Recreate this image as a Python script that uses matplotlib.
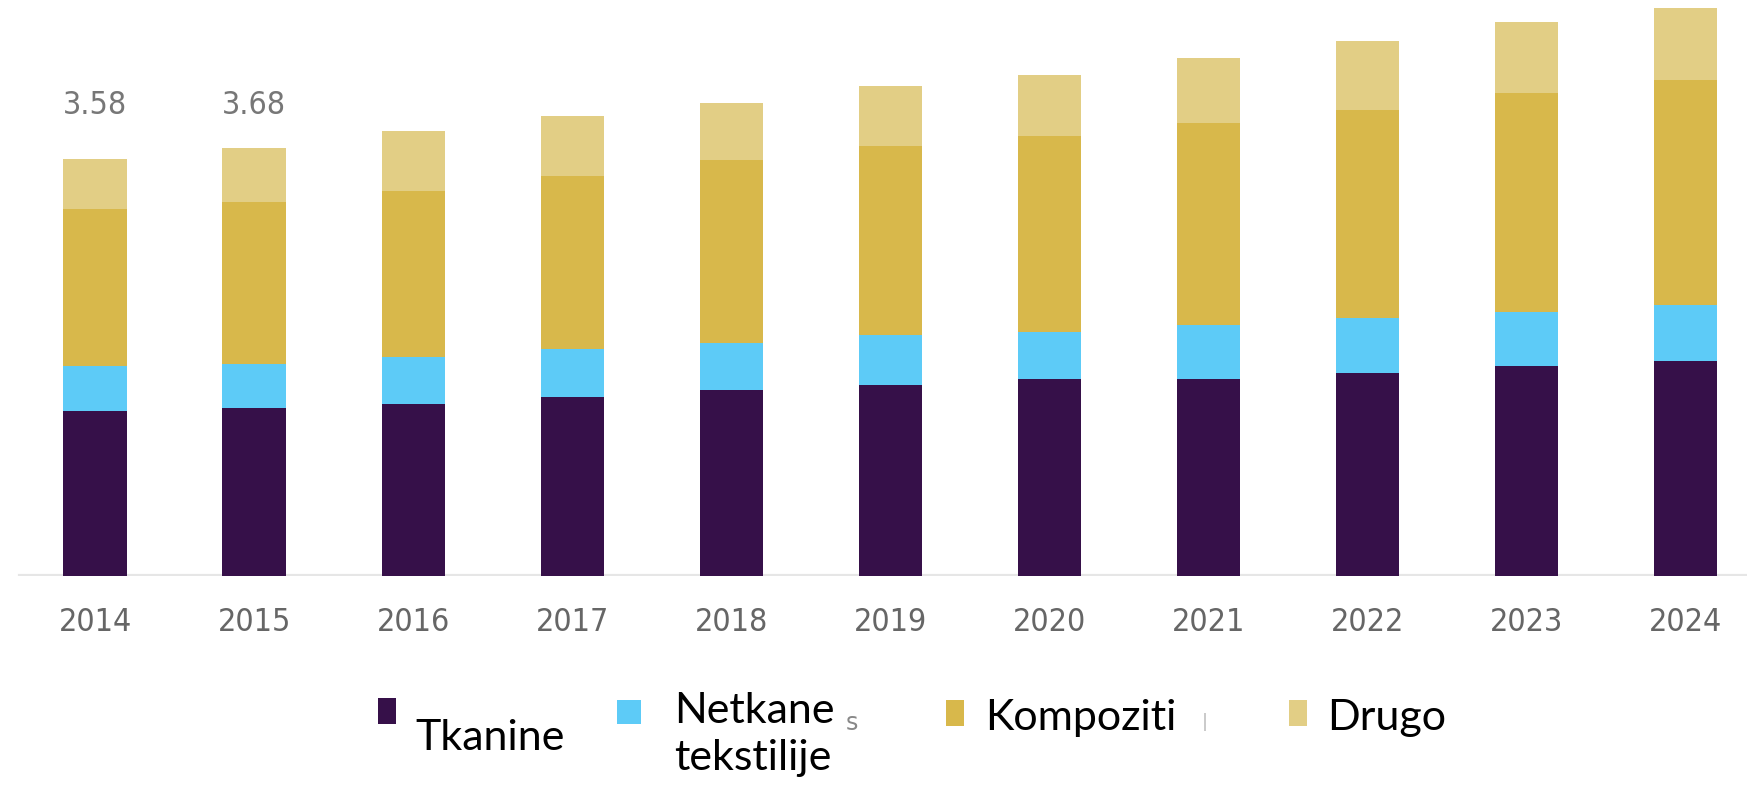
import matplotlib
matplotlib.use("Agg")
import matplotlib.pyplot as plt
from matplotlib.patches import Rectangle
import matplotlib.transforms as mtrans
import numpy as np

years = ["2014", "2015", "2016", "2017", "2018", "2019", "2020", "2021", "2022", "2023", "2024"]
tkanine = [1.42, 1.44, 1.48, 1.54, 1.60, 1.64, 1.69, 1.69, 1.74, 1.80, 1.85]
netkane = [0.38, 0.38, 0.40, 0.41, 0.40, 0.43, 0.41, 0.47, 0.48, 0.47, 0.48]
kompoziti = [1.35, 1.39, 1.43, 1.49, 1.57, 1.62, 1.68, 1.73, 1.78, 1.88, 1.93]
drugo = [0.43, 0.47, 0.51, 0.51, 0.49, 0.52, 0.52, 0.56, 0.60, 0.61, 0.62]
labels = {"2014": "3.58", "2015": "3.68"}
series_names = ["Tkanine", "Netkane tekstilije", "Kompoziti", "Drugo"]
colors = ["#361049", "#5DCBF7", "#D8B84B", "#E2CE85"]

W, H = 1747, 786
fig = plt.figure(figsize=(W / 100, H / 100), dpi=100)
base_px = 576
ax = fig.add_axes([0, 1 - base_px / H, 1, base_px / H])
x = np.arange(len(years))
bottom = np.zeros(len(years))
for vals, c in zip([tkanine, netkane, kompoziti, drugo], colors):
    ax.bar(x, vals, width=0.40, bottom=bottom, color=c, edgecolor="none", zorder=2)
    bottom += np.array(vals)

ax.set_xlim(-0.599, 10.386)
ax.set_ylim(0, base_px / 116.4)
for s in ax.spines.values():
    s.set_visible(False)
ax.set_yticks([])
ax.axhline(0, xmin=20 / W, xmax=1, color="#e6e6e6", lw=3, zorder=1)
ax.set_xticks(x, years)
ax.tick_params(axis="x", length=0, pad=22, labelsize=23, labelcolor="#666666")
for t in ax.get_xticklabels():
    t.set_fontfamily("DejaVu Sans")
    t.set_fontstretch("condensed")

trans = mtrans.blended_transform_factory(ax.transData, ax.transAxes)
for i, yr in enumerate(years):
    if yr in labels:
        ax.text(i, 1 - 105 / base_px, labels[yr], transform=trans, ha="center", va="center",
                fontsize=23, color="#777777", fontstretch="condensed")

# legend
def fx(px):
    return px / W

def fy(py):
    return 1 - py / H

markers = [(378, 698, 18, 26), (617, 700, 24, 24), (946, 700, 18, 26), (1289, 700, 18, 26)]
for (mx, my, mw, mh), c in zip(markers, colors):
    fig.patches.append(Rectangle((fx(mx), fy(my + mh)), mw / W, mh / H, transform=fig.transFigure,
                                 facecolor=c, edgecolor="none"))

lf = dict(fontsize=31, family="Lato", color="black", va="baseline", ha="left")
fig.text(fx(415), fy(750), "Tkanine", **lf)
fig.text(fx(674), fy(723), "Netkane", **lf)
fig.text(fx(674), fy(770), "tekstilije", **lf)
fig.text(fx(985), fy(730), "Kompoziti", **lf)
fig.text(fx(1327), fy(730), "Drugo", **lf)
fig.text(fx(846), fy(730), "s", fontsize=17, color="#888888", ha="left", va="baseline")
fig.text(fx(1202), fy(727), "|", fontsize=13, color="#bbbbbb", ha="left", va="baseline")

fig.savefig("out.png", dpi=100)
